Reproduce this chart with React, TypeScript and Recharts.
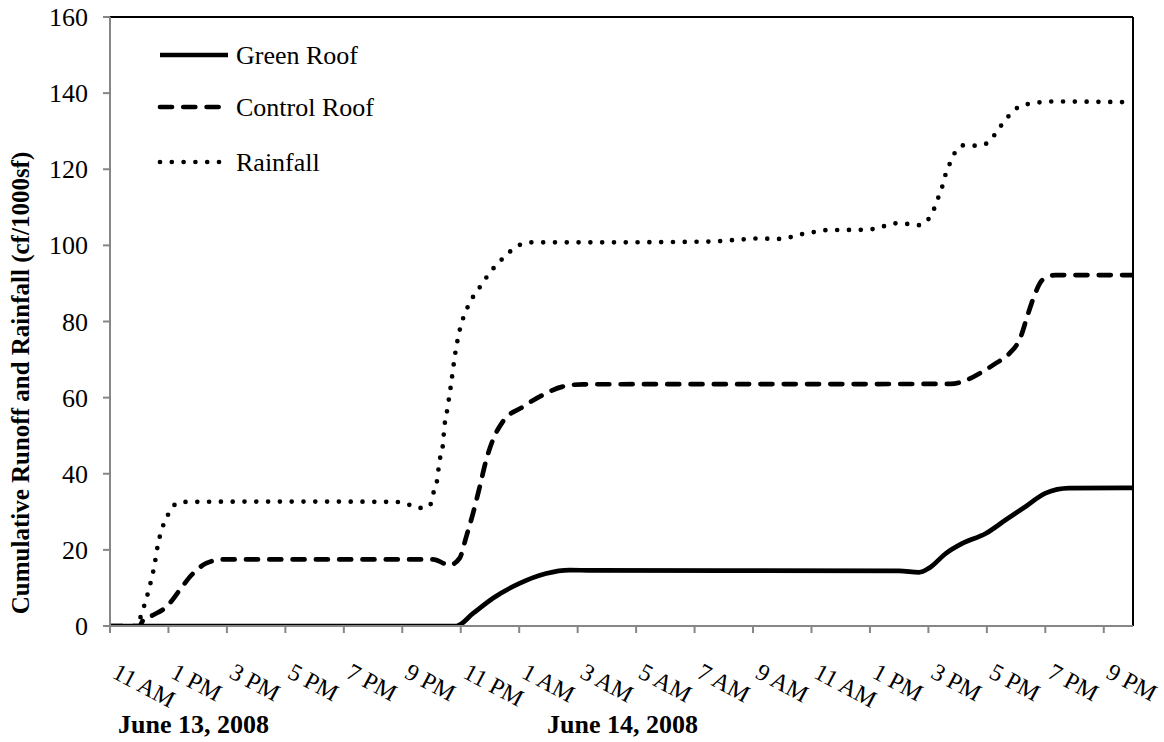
import React from "react";
import { LineChart, Line, XAxis, YAxis, ReferenceLine } from "recharts";

// time axis: hours counted from midnight at the start of June 13, 2008
const greenHours = [11, 22.0, 22.85, 23.42, 24.1, 25.01, 25.92, 26.72, 27.5, 38.0, 38.68, 39.02, 39.6, 40.16, 40.96, 41.65, 42.33, 43.01, 43.81, 46];
const greenRunoff = [0, 0, 0, 3.3, 7.3, 11.2, 13.8, 14.7, 14.6, 14.5, 14.1, 15.2, 19.1, 21.7, 24.3, 27.9, 31.4, 34.9, 36.2, 36.3];

const controlHours = [11, 12.0, 12.14, 12.48, 12.94, 13.39, 13.79, 14.3, 14.87, 18, 22.05, 22.62, 22.96, 23.19, 23.42, 23.65, 23.87, 24.1, 24.44, 25.13, 25.81, 26.49, 27.18, 39.77, 40.16, 40.85, 41.3, 41.76, 42.16, 42.38, 42.61, 42.9, 43.35, 46];
const controlRunoff = [0, 0, 1.6, 2.9, 5.1, 9.5, 13.4, 16.5, 17.5, 17.5, 17.5, 16.0, 17.8, 23.5, 29.6, 36.6, 43.6, 48.9, 53.7, 57.6, 60.7, 62.9, 63.5, 63.6, 64.2, 66.8, 69.0, 71.5, 76, 81.3, 86.5, 90.9, 92.2, 92.2];

const rainHours = [11, 11.8, 12.0, 12.14, 12.26, 12.37, 12.54, 12.6, 12.8, 12.95, 13.12, 13.5, 17, 20.8, 21.18, 21.56, 21.94, 22.04, 22.18, 22.28, 22.38, 22.45, 22.52, 22.65, 22.81, 22.96, 23.22, 23.65, 24.12, 24.39, 25.01, 25.41, 28, 31.5, 32.68, 33.09, 33.9, 34.3, 34.69, 35.09, 35.49, 36.7, 37.11, 37.51, 37.91, 38.31, 38.68, 39.02, 39.2, 39.34, 39.48, 39.59, 39.74, 39.91, 40.22, 40.62, 41.0, 41.28, 41.5, 41.76, 42.07, 42.44, 42.84, 43.24, 46];
const rainfall = [0, 0, 1.5, 4.6, 7.6, 10.8, 16.8, 19.7, 26, 28.6, 31.3, 32.6, 32.7, 32.6, 32, 31, 31.5, 34.4, 37.8, 43.6, 47, 53, 56, 62.5, 71.5, 77.6, 83.5, 89, 94, 96.2, 100.1, 100.8, 100.8, 101, 101.6, 101.8, 101.7, 102.2, 103, 103.5, 104, 104.1, 104.3, 105.1, 105.8, 105.6, 105.3, 107.1, 109.7, 112.6, 115.6, 118.7, 121.6, 124.4, 126.3, 126.2, 126.8, 129.2, 131.6, 134.1, 136.3, 137.2, 137.6, 137.8, 137.6];

const xTickHours = [11, 13, 15, 17, 19, 21, 23, 25, 27, 29, 31, 33, 35, 37, 39, 41, 43, 45];
const xTickLabels = ["11 AM", "1 PM", "3 PM", "5 PM", "7 PM", "9 PM", "11 PM", "1 AM", "3 AM", "5 AM", "7 AM", "9 AM", "11 AM", "1 PM", "3 PM", "5 PM", "7 PM", "9 PM"];
const yTicks = [0, 20, 40, 60, 80, 100, 120, 140, 160];

const dayLabels = ["June 13, 2008", "June 14, 2008"];

const FONT = "'Liberation Serif', 'Times New Roman', serif";
const AXIS_GRAY = "#868686";

const toPoints = (hours: number[], values: number[]) =>
  hours.map((h, i) => ({ h, v: values[i] }));

const series = [
  { name: "Green Roof", points: toPoints(greenHours, greenRunoff), dash: undefined as string | undefined },
  { name: "Control Roof", points: toPoints(controlHours, controlRunoff), dash: "12 11.3" },
  { name: "Rainfall", points: toPoints(rainHours, rainfall), dash: "0 11.8" },
];

function HourTick({ x, payload }: any) {
  const label = xTickLabels[xTickHours.indexOf(payload.value)];
  return (
    <text
      transform={`translate(${x + 1},677) rotate(28)`}
      fontSize={24}
      fontFamily={FONT}
      fill="#000"
    >
      {label}
    </text>
  );
}

function ValueTick({ y, payload }: any) {
  return (
    <text x={88} y={y + 9} textAnchor="end" fontSize={26} fontFamily={FONT} fill="#000">
      {payload.value}
    </text>
  );
}

export default function App() {
  return (
    <div style={{ position: "absolute", left: 0, top: 0, width: 1164, height: 742, background: "#fff" }}>
      <LineChart
        width={1164}
        height={742}
        margin={{ top: 17, right: 31, bottom: 0, left: 0 }}
      >
        <XAxis
          dataKey="h"
          type="number"
          domain={[11, 46]}
          ticks={xTickHours}
          interval={0}
          height={116}
          tick={<HourTick />}
          tickSize={7}
          axisLine={{ stroke: AXIS_GRAY, strokeWidth: 2 }}
          tickLine={{ stroke: AXIS_GRAY, strokeWidth: 2 }}
          allowDataOverflow
        />
        <YAxis
          type="number"
          domain={[0, 160]}
          ticks={yTicks}
          interval={0}
          width={110}
          tick={<ValueTick />}
          tickSize={7}
          axisLine={{ stroke: AXIS_GRAY, strokeWidth: 2 }}
          tickLine={{ stroke: AXIS_GRAY, strokeWidth: 2 }}
          allowDataOverflow
        />
        <ReferenceLine y={160} stroke="#000" strokeWidth={2} />
        <ReferenceLine x={46} stroke="#000" strokeWidth={2} />
        {series.map((s) => (
          <Line
            key={s.name}
            name={s.name}
            data={s.points}
            dataKey="v"
            type="monotone"
            stroke="#000"
            strokeWidth={4.7}
            strokeDasharray={s.dash}
            strokeLinecap="round"
            dot={false}
            activeDot={false}
            isAnimationActive={false}
          />
        ))}
      </LineChart>

      {/* legend, axis title and day captions */}
      <svg
        width={1164}
        height={742}
        style={{ position: "absolute", left: 0, top: 0, pointerEvents: "none" }}
      >
        {series.map((s, i) => {
          const y = [55, 107, 162][i];
          return (
            <g key={s.name}>
              <line
                x1={160}
                x2={228}
                y1={y}
                y2={y}
                stroke="#000"
                strokeWidth={4.7}
                strokeDasharray={s.dash}
                strokeLinecap={s.dash ? "round" : "butt"}
              />
              <text x={236} y={y + 9} fontSize={26} fontFamily={FONT} fill="#000">
                {s.name}
              </text>
            </g>
          );
        })}
        <text
          transform="translate(29,383) rotate(-90)"
          textAnchor="middle"
          fontSize={25}
          fontWeight="bold"
          fontFamily={FONT}
          fill="#000"
        >
          Cumulative Runoff and Rainfall (cf/1000sf)
        </text>
        <text x={118} y={733} fontSize={26} fontWeight="bold" fontFamily={FONT} fill="#000">
          {dayLabels[0]}
        </text>
        <text x={547} y={733} fontSize={26} fontWeight="bold" fontFamily={FONT} fill="#000">
          {dayLabels[1]}
        </text>
      </svg>
    </div>
  );
}
